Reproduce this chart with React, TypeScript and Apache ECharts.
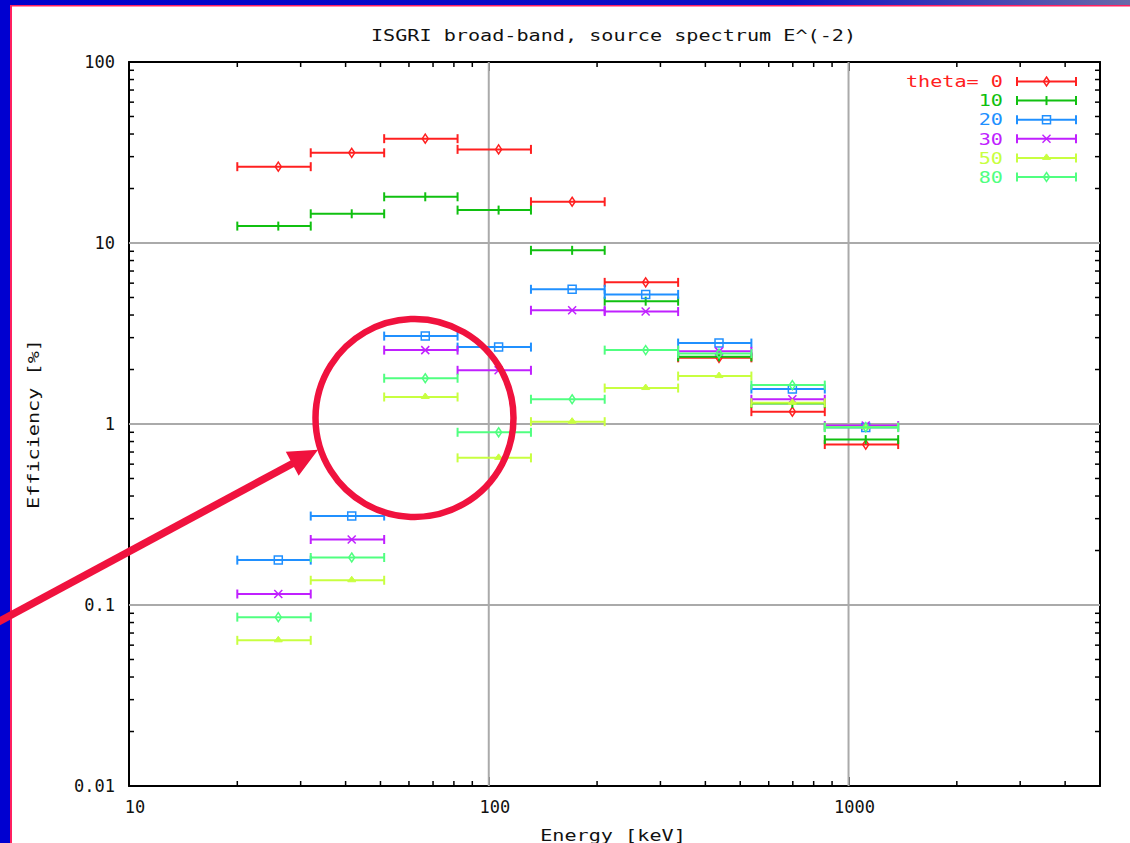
import React, { useEffect, useRef } from "react";
import * as echarts from "echarts";

// ---- data ----
const binEdges = [20, 32, 51.2, 81.9, 131, 210, 336, 537, 859, 1374];
const binCenters = [26, 41.6, 66.6, 106.5, 170.5, 273, 436.5, 698, 1116.5];

const thetaLabels = ["theta= 0", "10", "20", "30", "50", "80"];
const thetaColors = ["#ff2020", "#10c010", "#2090ff", "#c020ff", "#c8ff40", "#50ff80"];
const thetaMarkers = ["diamond", "tick", "square", "cross", "triangle", "diamond"];

const eff0 = [26.4, 31.5, 37.7, 32.9, 16.9, 6.06, 2.32, 1.17, 0.77];
const eff10 = [12.4, 14.5, 18.0, 15.2, 9.11, 4.77, 2.35, 1.3, 0.82];
const eff20 = [0.177, 0.31, 3.06, 2.66, 5.55, 5.2, 2.8, 1.56, 0.955];
const eff30 = [0.115, 0.23, 2.56, 1.98, 4.25, 4.18, 2.52, 1.37, 0.98];
const eff50 = [0.0638, 0.137, 1.41, 0.65, 1.03, 1.58, 1.84, 1.31, 0.96];
const eff80 = [0.0857, 0.183, 1.79, 0.9, 1.37, 2.56, 2.45, 1.64, 0.96];
const effSeries = [eff0, eff10, eff20, eff30, eff50, eff80];

const xMajorTicks = [10, 100, 1000];
const yMajorTicks = [0.01, 0.1, 1, 10, 100];
const xGridValues = [100, 1000];
const yGridValues = [0.1, 1, 10];
const minorMantissas = [2, 3, 4, 5, 6, 7, 8, 9];
const xDecades = [10, 100, 1000];
const yDecades = [0.01, 0.1, 1, 10];

const titleText = "ISGRI broad-band, source spectrum E^(-2)";
const xName = "Energy [keV]";
const yName = "Efficiency [%]";

const X_MIN = 10;
const X_MAX = 5000;
const Y_MIN = 0.01;
const Y_MAX = 100;

const FONT = "DejaVu Sans Mono";

function markerEls(kind: string, cx: number, cy: number, color: string): any[] {
  const st = { stroke: color, lineWidth: 1.5, fill: "transparent" };
  switch (kind) {
    case "diamond":
      return [{ type: "polygon", shape: { points: [[cx, cy - 4.5], [cx + 3, cy], [cx, cy + 4.5], [cx - 3, cy]] }, style: st }];
    case "tick":
      return [{ type: "line", shape: { x1: cx, y1: cy - 4.5, x2: cx, y2: cy + 4.5 }, style: { stroke: color, lineWidth: 2 } }];
    case "square":
      return [{ type: "rect", shape: { x: cx - 4, y: cy - 4, width: 8, height: 8 }, style: st }];
    case "cross":
      return [
        { type: "line", shape: { x1: cx - 4, y1: cy - 4, x2: cx + 4, y2: cy + 4 }, style: { stroke: color, lineWidth: 1.5 } },
        { type: "line", shape: { x1: cx - 4, y1: cy + 4, x2: cx + 4, y2: cy - 4 }, style: { stroke: color, lineWidth: 1.5 } },
      ];
    case "triangle":
      return [{ type: "polygon", shape: { points: [[cx - 4, cy + 1.5], [cx + 4, cy + 1.5], [cx, cy - 4]] }, style: { fill: color, stroke: color, lineWidth: 1 } }];
    default:
      return [];
  }
}

function errorBarEls(x1: number, x2: number, cx: number, y: number, color: string, kind: string): any[] {
  const ls = { stroke: color, lineWidth: 2 };
  return [
    { type: "line", shape: { x1, y1: y, x2, y2: y }, style: ls },
    { type: "line", shape: { x1, y1: y - 4.5, x2: x1, y2: y + 4.5 }, style: ls },
    { type: "line", shape: { x1: x2, y1: y - 4.5, x2, y2: y + 4.5 }, style: ls },
    ...markerEls(kind, cx, y, color),
  ];
}

function fmtPow(v: number): string {
  const l = Math.log10(v);
  const e = Math.round(l);
  if (Math.abs(l - e) > 1e-6) return "";
  return e >= 0 ? String(Math.pow(10, e)) : Math.pow(10, e).toFixed(-e);
}

export default function App() {
  const ref = useRef<HTMLDivElement>(null);

  useEffect(() => {
    if (!ref.current) return;
    const chart = echarts.init(ref.current, undefined, { renderer: "svg" });

    const axisLine = { show: true, onZero: false, lineStyle: { color: "#000", width: 2 } };
    const axisTick = { show: true, inside: true, length: 9, lineStyle: { color: "#000", width: 1.5 } };

    const errorSeries = effSeries.map((vals, si) => ({
      type: "custom",
      name: thetaLabels[si],
      coordinateSystem: "cartesian2d",
      xAxisIndex: 0,
      yAxisIndex: 0,
      z: 3 + si,
      clip: false,
      silent: true,
      encode: { x: [0, 1, 2], y: 3 },
      data: vals.map((v, i) => [binEdges[i], binEdges[i + 1], binCenters[i], v]),
      renderItem: (params: any, api: any) => {
        const y = api.value(3);
        const p1 = api.coord([api.value(0), y]);
        const p2 = api.coord([api.value(1), y]);
        const pc = api.coord([api.value(2), y]);
        return {
          type: "group",
          children: errorBarEls(p1[0], p2[0], pc[0], pc[1], thetaColors[si], thetaMarkers[si]),
        };
      },
    }));

    const frameSeries = {
      type: "custom",
      name: "frame",
      coordinateSystem: "cartesian2d",
      xAxisIndex: 0,
      yAxisIndex: 0,
      z: 1,
      clip: false,
      silent: true,
      data: [[100, 1]],
      renderItem: (params: any, api: any) => {
        const cs = params.coordSys;
        const left = cs.x, top = cs.y, right = cs.x + cs.width, bottom = cs.y + cs.height;
        const kids: any[] = [];
        const grid = { stroke: "#aaaaaa", lineWidth: 2 };
        const tk = { stroke: "#000", lineWidth: 1.5 };
        xGridValues.forEach((v) => {
          const x = api.coord([v, 1])[0];
          kids.push({ type: "line", shape: { x1: x, y1: top, x2: x, y2: bottom }, style: grid });
        });
        yGridValues.forEach((v) => {
          const y = api.coord([100, v])[1];
          kids.push({ type: "line", shape: { x1: left, y1: y, x2: right, y2: y }, style: grid });
        });
        xDecades.forEach((d) =>
          minorMantissas.forEach((m) => {
            const v = d * m;
            if (v >= X_MAX) return;
            const x = api.coord([v, 1])[0];
            kids.push({ type: "line", shape: { x1: x, y1: bottom, x2: x, y2: bottom - 5 }, style: tk });
            kids.push({ type: "line", shape: { x1: x, y1: top, x2: x, y2: top + 5 }, style: tk });
          })
        );
        yDecades.forEach((d) =>
          minorMantissas.forEach((m) => {
            const v = d * m;
            const y = api.coord([100, v])[1];
            kids.push({ type: "line", shape: { x1: left, y1: y, x2: left + 5, y2: y }, style: tk });
            kids.push({ type: "line", shape: { x1: right, y1: y, x2: right - 5, y2: y }, style: tk });
          })
        );
        return { type: "group", children: kids };
      },
    };

    // legend (drawn as graphic, styled like gnuplot key)
    const legendEls: any[] = [];
    thetaLabels.forEach((lab, i) => {
      const y = 81.5 + i * 19.1;
      legendEls.push({
        type: "text",
        x: 1003,
        y,
        scaleX: 1.26,
        style: { text: lab, fill: thetaColors[i], font: `16px "${FONT}"`, align: "right", verticalAlign: "middle" },
        z: 60,
      });
      errorBarEls(1017, 1076, 1046.5, y, thetaColors[i], thetaMarkers[i]).forEach((el) =>
        legendEls.push({ ...el, z: 60 })
      );
    });

    const annotColor = "#f0123e";

    const option: any = {
      animation: false,
      backgroundColor: "#ffffff",
      grid: { left: 129, top: 62, right: 30, bottom: 57, containLabel: false },
      xAxis: [
        {
          type: "log",
          logBase: 10,
          min: X_MIN,
          max: X_MAX,
          position: "bottom",
          axisLine,
          axisTick,
          splitLine: { show: false },
          axisLabel: {
            show: true,
            margin: 12,
            padding: [0, 0, 0, 12],
            fontFamily: FONT,
            fontSize: 17,
            color: "#111",
            formatter: (v: number) => (xMajorTicks.some((t) => Math.abs(t - v) / t < 1e-6) ? fmtPow(v) : ""),
          },
        },
        {
          type: "log",
          logBase: 10,
          min: X_MIN,
          max: X_MAX,
          position: "top",
          axisLine,
          axisTick,
          splitLine: { show: false },
          axisLabel: { show: false },
        },
      ],
      yAxis: [
        {
          type: "log",
          logBase: 10,
          min: Y_MIN,
          max: Y_MAX,
          position: "left",
          axisLine,
          axisTick,
          splitLine: { show: false },
          axisLabel: {
            show: true,
            margin: 14,
            fontFamily: FONT,
            fontSize: 17,
            color: "#111",
            formatter: (v: number) => (yMajorTicks.some((t) => Math.abs(t - v) / t < 1e-6) ? fmtPow(v) : ""),
          },
        },
        {
          type: "log",
          logBase: 10,
          min: Y_MIN,
          max: Y_MAX,
          position: "right",
          axisLine,
          axisTick,
          splitLine: { show: false },
          axisLabel: { show: false },
        },
      ],
      series: [frameSeries, ...errorSeries],
      graphic: [
        // slide background strips
        {
          type: "rect",
          shape: { x: 0, y: 0, width: 1130, height: 5 },
          style: {
            fill: new echarts.graphic.LinearGradient(0, 0, 1, 0, [
              { offset: 0, color: "#0000cc" },
              { offset: 0.7, color: "#1010c4" },
              { offset: 1, color: "#6a6aa8" },
            ]),
          },
          z: 50,
        },
        { type: "rect", shape: { x: 0, y: 5, width: 1130, height: 1.5 }, style: { fill: "#ff2060" }, z: 50 },
        { type: "rect", shape: { x: 0, y: 0, width: 10, height: 843 }, style: { fill: "#0000d0" }, z: 51 },
        { type: "rect", shape: { x: 10, y: 5, width: 2, height: 838 }, style: { fill: "#ff2060" }, z: 51 },
        // title and axis names
        {
          type: "text",
          x: 613.5,
          y: 35,
          scaleX: 1.26,
          style: { text: titleText, fill: "#111", font: `16px "${FONT}"`, align: "center", verticalAlign: "middle" },
          z: 60,
        },
        {
          type: "text",
          x: 613,
          y: 835,
          scaleX: 1.26,
          style: { text: xName, fill: "#111", font: `16px "${FONT}"`, align: "center", verticalAlign: "middle" },
          z: 60,
        },
        {
          type: "text",
          x: 33,
          y: 424,
          rotation: Math.PI / 2,
          scaleX: 1.26,
          style: { text: yName, fill: "#111", font: `16px "${FONT}"`, align: "center", verticalAlign: "middle" },
          z: 60,
        },
        ...legendEls,
        // annotation: circle and arrow
        {
          type: "circle",
          shape: { cx: 414.5, cy: 418, r: 99 },
          style: { fill: "transparent", stroke: annotColor, lineWidth: 6.5 },
          z: 90,
        },
        {
          type: "line",
          shape: { x1: -8.8, y1: 625.7, x2: 295, y2: 462.3 },
          style: { stroke: annotColor, lineWidth: 7.5 },
          z: 90,
        },
        {
          type: "polygon",
          shape: { points: [[316, 451], [298.8, 473.9], [287.4, 452.7]] },
          style: { fill: annotColor, stroke: annotColor, lineWidth: 2, lineJoin: "miter" },
          z: 90,
        },
      ],
    };

    chart.setOption(option);
    return () => chart.dispose();
  }, []);

  return (
    <div
      ref={ref}
      style={{ position: "fixed", left: 0, top: 0, width: 1130, height: 843, background: "#ffffff" }}
    />
  );
}
